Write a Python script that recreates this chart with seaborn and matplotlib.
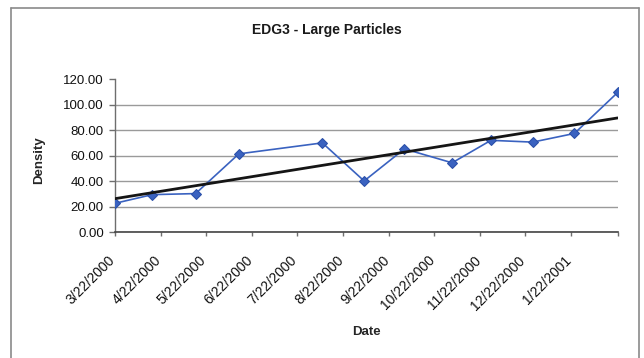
import datetime as dt

import matplotlib
matplotlib.use("Agg")
import matplotlib.dates as mdates
import matplotlib.pyplot as plt
import matplotlib.transforms as mtransforms
from matplotlib.lines import Line2D
import numpy as np
import pandas as pd
import seaborn as sns

# Sampling dates and measured densities
sample_dates = [
    "2000-03-22", "2000-04-16", "2000-05-15", "2000-06-13", "2000-08-08",
    "2000-09-05", "2000-10-02", "2000-11-03", "2000-11-29", "2000-12-27",
    "2001-01-24", "2001-02-22",
]
density = [22.7, 29.5, 30.3, 61.4, 70.0, 40.2, 65.3, 54.4, 72.0, 70.6, 77.4, 109.5]

# Monthly axis ticks (last one unlabeled)
tick_dates = [
    "2000-03-22", "2000-04-22", "2000-05-22", "2000-06-22", "2000-07-22",
    "2000-08-22", "2000-09-22", "2000-10-22", "2000-11-22", "2000-12-22",
    "2001-01-22", "2001-02-22",
]
tick_labels = [
    "3/22/2000", "4/22/2000", "5/22/2000", "6/22/2000", "7/22/2000",
    "8/22/2000", "9/22/2000", "10/22/2000", "11/22/2000", "12/22/2000",
    "1/22/2001", "",
]
y_ticks = [0, 20, 40, 60, 80, 100, 120]

sns.set_theme(style="white")
plt.rcParams["font.family"] = ["Liberation Sans", "DejaVu Sans"]

df = pd.DataFrame({"date": pd.to_datetime(sample_dates), "density": density})
df["x"] = mdates.date2num(df["date"])

# Linear trend fitted to the measurements
slope, intercept = np.polyfit(df["x"], df["density"], 1)
trend = pd.DataFrame({"x": [df["x"].min(), df["x"].max()]})
trend["density"] = intercept + slope * trend["x"]

fig = plt.figure(figsize=(6.44, 3.58), dpi=100)
fig.patch.set_facecolor("white")
ax = fig.add_axes([0.1786, 0.3511, 0.9592 - 0.1786, 0.7793 - 0.3511])

sns.lineplot(data=df, x="x", y="density", ax=ax, color="#3A62C0", linewidth=1.2,
             marker="D", markersize=5.5, markerfacecolor="#3A62C0",
             markeredgecolor="#2A4FA8", zorder=3)
sns.lineplot(data=trend, x="x", y="density", ax=ax, color="#151515",
             linewidth=2.0, zorder=4)

tick_x = mdates.date2num(pd.to_datetime(tick_dates))
ax.set_xlim(tick_x[0], tick_x[-1])
ax.set_ylim(0, 120)
ax.set_xticks(tick_x)
ax.set_xticklabels(tick_labels, rotation=45, ha="right", rotation_mode="anchor",
                   fontsize=10, color="#111111")
ax.set_yticks(y_ticks)
ax.set_yticklabels([f"{v:.2f}" for v in y_ticks], fontsize=9.5, color="#111111")

# Horizontal gridlines between the axis and the top value
ax.grid(axis="y", color="#9A9A9A", linewidth=1.0)
ax.yaxis.get_gridlines()[-1].set_visible(False)
ax.set_axisbelow(True)
for side in ("top", "right"):
    ax.spines[side].set_visible(False)
ax.spines["left"].set_color("#6E6E6E")
ax.spines["bottom"].set_color("#444444")
ax.spines["left"].set_linewidth(1.0)
ax.spines["bottom"].set_linewidth(1.2)
ax.tick_params(axis="y", which="major", length=4, width=1, color="#6E6E6E", pad=4, left=True)
ax.tick_params(axis="x", which="major", length=3, width=1, color="#6E6E6E", pad=12, bottom=True)

# Nudge the slanted date labels so their ends sit just left of each tick
shift = mtransforms.ScaledTranslation(-7 / 100, 0, fig.dpi_scale_trans)
for lbl in ax.xaxis.get_majorticklabels():
    lbl.set_transform(lbl.get_transform() + shift)

ax.set_xlabel("Date", fontsize=9.5, fontweight="bold")
ax.set_ylabel("Density", fontsize=9.5, fontweight="bold")
ax.xaxis.set_label_coords((366 - 115) / (617.7 - 115), -(326 - 232.3) / (232.3 - 79))
ax.yaxis.set_label_coords(-(115 - 45) / (617.7 - 115), (232.3 - 160) / (232.3 - 79))

fig.text(327 / 644, 1 - 30 / 358, "EDG3 - Large Particles", ha="center", va="center",
         fontsize=10, fontweight="bold", color="#1A1A1A")

# Chart-area frame
frame = dict(color="#8A8A8A", linewidth=1.2, transform=fig.transFigure)
x0, x1, y1 = 11 / 644, 638.5 / 644, 1 - 7.5 / 358
fig.add_artist(Line2D([x0, x1], [y1, y1], **frame))
fig.add_artist(Line2D([x0, x0], [0, y1], **frame))
fig.add_artist(Line2D([x1, x1], [0, y1], **frame))

fig.savefig("out.png", dpi=100, facecolor="white")
